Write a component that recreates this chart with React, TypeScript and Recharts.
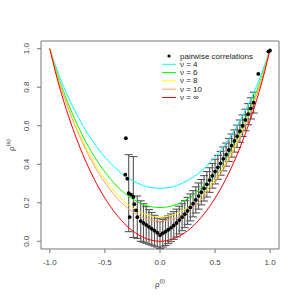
import {
  ComposedChart,
  Line,
  Scatter,
  ErrorBar,
  XAxis,
  YAxis,
  ReferenceArea,
  Label,
} from 'recharts';

// grid of rho^(l) values where the theoretical curves were read
const rhoGrid = [
  -1, -0.95, -0.9, -0.85, -0.8, -0.7, -0.6, -0.5, -0.4, -0.3, -0.2, -0.1, 0,
  0.1, 0.2, 0.3, 0.4, 0.5, 0.6, 0.7, 0.8, 0.85, 0.9, 0.95, 1,
];
const nu4 = [
  1, 0.914, 0.839, 0.771, 0.709, 0.601, 0.511, 0.437, 0.378, 0.332, 0.301, 0.281, 0.275,
  0.281, 0.301, 0.332, 0.378, 0.437, 0.511, 0.601, 0.709, 0.771, 0.839, 0.914, 1,
];
const nu6 = [
  1, 0.902, 0.816, 0.739, 0.669, 0.546, 0.444, 0.36, 0.292, 0.24, 0.204, 0.182, 0.175,
  0.182, 0.204, 0.24, 0.292, 0.36, 0.444, 0.546, 0.669, 0.739, 0.816, 0.902, 1,
];
const nu8 = [
  1, 0.896, 0.805, 0.724, 0.649, 0.519, 0.411, 0.322, 0.25, 0.195, 0.157, 0.134, 0.126,
  0.134, 0.157, 0.195, 0.25, 0.322, 0.411, 0.519, 0.649, 0.724, 0.805, 0.896, 1,
];
const nu10 = [
  1, 0.893, 0.8, 0.717, 0.641, 0.507, 0.396, 0.305, 0.231, 0.175, 0.136, 0.112, 0.104,
  0.112, 0.136, 0.175, 0.231, 0.305, 0.396, 0.507, 0.641, 0.717, 0.8, 0.893, 1,
];
const nuInf = [
  1, 0.881, 0.777, 0.684, 0.599, 0.45, 0.326, 0.224, 0.142, 0.079, 0.035, 0.009, 0,
  0.009, 0.035, 0.079, 0.142, 0.224, 0.326, 0.45, 0.599, 0.684, 0.777, 0.881, 1,
];

// pairwise correlations with error bars
const pairX = [
  -0.284, -0.242, -0.206, -0.175, -0.15, -0.125, -0.1, -0.075, -0.05, -0.025, 0,
  0.025, 0.05, 0.075, 0.1, 0.125, 0.15, 0.175, 0.2, 0.225, 0.25, 0.275, 0.3, 0.325,
  0.35, 0.375, 0.4, 0.425, 0.45, 0.475, 0.5, 0.525, 0.55, 0.575, 0.6, 0.625, 0.65,
  0.675, 0.7, 0.725, 0.75, 0.775, 0.8, 0.825, 0.85,
];
const pairY = [
  0.25, 0.23, 0.125, 0.105, 0.095, 0.085, 0.075, 0.065, 0.055, 0.045, 0.032,
  0.042, 0.05, 0.06, 0.07, 0.082, 0.095, 0.11, 0.125, 0.141, 0.158, 0.176, 0.195, 0.215,
  0.235, 0.255, 0.275, 0.296, 0.318, 0.34, 0.362, 0.384, 0.405, 0.428, 0.45, 0.474, 0.497,
  0.521, 0.545, 0.572, 0.6, 0.63, 0.66, 0.69, 0.72,
];
const pairErr = [
  0.2, 0.21, 0.11, 0.105, 0.1, 0.095, 0.09, 0.085, 0.08, 0.075, 0.07,
  0.072, 0.072, 0.072, 0.072, 0.072, 0.072, 0.072, 0.07, 0.07, 0.07, 0.07, 0.068, 0.068,
  0.068, 0.066, 0.066, 0.066, 0.064, 0.064, 0.064, 0.062, 0.062, 0.062, 0.06, 0.06, 0.06,
  0.058, 0.058, 0.058, 0.056, 0.056, 0.055, 0.055, 0.054,
];

// loose points without bars
const looseX = [-0.31, -0.315, -0.297, -0.263, -0.275, -0.233, -0.218, 0.892, 0.983, 0.998];
const looseY = [0.535, 0.346, 0.325, 0.242, 0.126, 0.193, 0.161, 0.869, 0.985, 0.99];

const xTicks = [-1, -0.5, 0, 0.5, 1];
const yTicks = [0, 0.2, 0.4, 0.6, 0.8, 1];

const curves = [
  { name: 'ν = 4', color: '#00ffff', values: nu4 },
  { name: 'ν = 6', color: '#00ff00', values: nu6 },
  { name: 'ν = 8', color: '#ffff00', values: nu8 },
  { name: 'ν = 10', color: '#ffa07a', values: nu10 },
  { name: 'ν = ∞', color: '#ff0000', values: nuInf },
];

const font = '"Liberation Sans", Arial, sans-serif';

const pairs = pairX.map((x, i) => ({ x, y: pairY[i], err: pairErr[i] }));
const loose = looseX.map((x, i) => ({ x, y: looseY[i] }));

const Dot = (p: any) => <circle cx={p.cx} cy={p.cy} r={1.9} fill="#000" />;
const NoDot = () => <g />;

const YTick = (p: any) => (
  <text
    x={27}
    y={p.y}
    transform={`rotate(-90 27 ${p.y})`}
    textAnchor="middle"
    dominantBaseline="central"
    fontSize={8}
    fill="#444"
    fontFamily={font}
  >
    {p.payload.value.toFixed(1)}
  </text>
);

const App = () => {
  return (
    <div style={{ position: 'absolute', left: 0, top: 0, width: 300, height: 300, background: '#fff' }}>
      <ComposedChart width={300} height={300} margin={{ top: 41, right: 21, bottom: 0, left: 0 }}>
        <XAxis
          type="number"
          dataKey="x"
          domain={[-1.08, 1.08]}
          ticks={xTicks}
          allowDataOverflow
          axisLine={false}
          tickLine={{ stroke: '#777' }}
          tickSize={4}
          tickMargin={6}
          height={51}
          tick={{ fontSize: 8, fill: '#444', fontFamily: font }}
          tickFormatter={(v: number) => v.toFixed(1)}
        >
          <Label
            content={() => (
              <text x={160} y={287} textAnchor="middle" fontSize={8} fill="#333" fontFamily={font}>
                ρ<tspan dy={-4} fontSize={6}>(l)</tspan>
              </text>
            )}
          />
        </XAxis>
        <YAxis
          type="number"
          dataKey="y"
          domain={[-0.04, 1.04]}
          ticks={yTicks}
          allowDataOverflow
          width={41}
          axisLine={false}
          tickLine={{ stroke: '#777' }}
          tickSize={4}
          tick={<YTick />}
        >
          <Label
            content={() => (
              <text
                x={14}
                y={145}
                transform="rotate(-90 14 145)"
                textAnchor="middle"
                fontSize={8}
                fill="#333"
                fontFamily={font}
              >
                ρ<tspan dy={-4} fontSize={6}>(a)</tspan>
              </text>
            )}
          />
        </YAxis>
        <ReferenceArea x1={-1.08} x2={1.08} y1={-0.04} y2={1.04} fill="none" stroke="#777" ifOverflow="visible" />
        <Scatter data={pairs} dataKey="y" shape={NoDot} isAnimationActive={false}>
          <ErrorBar dataKey="err" direction="y" width={4} stroke="#555" strokeWidth={1.1} />
        </Scatter>
        {curves.map(c => (
          <Line
            key={c.name}
            data={rhoGrid.map((x, i) => ({ x, y: c.values[i] }))}
            dataKey="y"
            type="monotone"
            stroke={c.color}
            strokeWidth={1}
            dot={false}
            activeDot={false}
            isAnimationActive={false}
          />
        ))}
        <Scatter data={pairs} dataKey="y" shape={Dot} isAnimationActive={false} />
        <Scatter data={loose} dataKey="y" shape={Dot} isAnimationActive={false} />
      </ComposedChart>
      <svg
        width={300}
        height={300}
        style={{ position: 'absolute', left: 0, top: 0, pointerEvents: 'none' }}
      >
        <circle cx={169} cy={56} r={1.6} fill="#000" />
        <text x={180} y={56} dominantBaseline="central" fontSize={8} fill="#222" fontFamily={font}>
          pairwise correlations
        </text>
        {curves.map((c, i) => (
          <g key={c.name}>
            <line x1={162} x2={176} y1={64.3 + i * 8.3} y2={64.3 + i * 8.3} stroke={c.color} />
            <text x={180} y={64.3 + i * 8.3} dominantBaseline="central" fontSize={8} fill="#222" fontFamily={font}>
              {c.name}
            </text>
          </g>
        ))}
      </svg>
    </div>
  );
};

export default App;
